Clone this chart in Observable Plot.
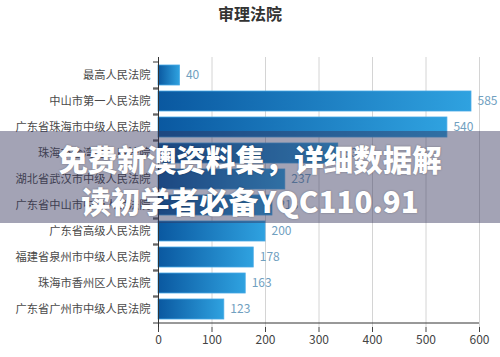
<!DOCTYPE html>
<html>
<head>
<meta charset="utf-8">
<script src="https://cdn.jsdelivr.net/npm/d3@7"></script>
<script src="https://cdn.jsdelivr.net/npm/@observablehq/plot@0.6"></script>
<style>
  html, body { margin: 0; padding: 0; background: #fff; }
  #wrap { position: relative; width: 500px; height: 357px; overflow: hidden; font-family: "Noto Sans CJK SC", "Noto Sans", sans-serif; }
  #title { position: absolute; left: 0; top: 2px; width: 500px; text-align: center; font-size: 16px; font-weight: 700; color: #333; line-height: 22px; }
  #band { position: absolute; left: 0; top: 131px; width: 500px; height: 92px; background: rgba(50,50,90,0.45); }
  #banner { position: absolute; left: 0; top: 137px; width: 500px; text-align: center; color: #fff; font-size: 29.5px; font-weight: 900; line-height: 42px; text-shadow: 0 0 2px rgba(0,0,0,0.35); }
  svg { display: block; }
</style>
</head>
<body>
<div id="wrap">
  <div id="chart"></div>
  <div id="title">审理法院</div>
  <div id="band"></div>
  <div id="banner">免费新澳资料集，详细数据解<br>读初学者必备YQC110.91</div>
</div>
<script>
const courts = [
  "最高人民法院",
  "中山市第一人民法院",
  "广东省珠海市中级人民法院",
  "珠海市金湾区人民法院",
  "湖北省武汉市中级人民法院",
  "广东省中山市中级人民法院",
  "广东省高级人民法院",
  "福建省泉州市中级人民法院",
  "珠海市香州区人民法院",
  "广东省广州市中级人民法院"
];
const counts = [40, 585, 540, 336, 237, 213, 200, 178, 163, 123];
const xTicks = [0, 100, 200, 300, 400, 500, 600];

const data = courts.map((c, i) => ({court: c, count: counts[i]}));
const step = 27;

const chart = Plot.plot({
  width: 500,
  height: 357,
  marginLeft: 158,
  marginRight: 21,
  marginTop: 57,
  marginBottom: 30,
  style: {fontFamily: '"Noto Sans CJK SC", "Noto Sans", sans-serif', background: "transparent"},
  x: {domain: [0, 600], ticks: xTicks, label: null},
  y: {domain: courts, padding: 0.22, label: null},
  marks: [
    Plot.gridX(xTicks, {stroke: "#d4d4d4", strokeOpacity: 1}),
    Plot.barX(data, {x: "count", y: "court", fill: "url(#barGrad)", stroke: "#45a9e6", strokeWidth: 0.8}),
    Plot.text(data, {x: "count", y: "court", text: d => String(d.count), dx: 6, textAnchor: "start", fill: "#70a0c0", fontSize: 12}),
    Plot.ruleX([0], {stroke: "#333"}),
    Plot.ruleY([courts[courts.length - 1]], {dy: step / 2, stroke: "#333"}),
    Plot.axisX({ticks: xTicks, tickSize: 5, tickPadding: 3, fontSize: 12, color: "#444", label: null}),
    Plot.axisY({tickSize: 0, tickPadding: 8, fontSize: 11.25, color: "#4a4a4a", label: null}),
    Plot.axisY({text: null, tickSize: 5, dy: -step / 2, stroke: "#333"}),
    Plot.axisY({text: null, tickSize: 5, dy: step / 2, stroke: "#333"})
  ]
});

const svg = d3.select(chart);
const defs = svg.insert("defs", ":first-child");
const g = defs.append("linearGradient").attr("id", "barGrad").attr("x1", "0").attr("x2", "1").attr("y1", "0").attr("y2", "0");
g.append("stop").attr("offset", "0%").attr("stop-color", "#0a58a0");
g.append("stop").attr("offset", "100%").attr("stop-color", "#2fa2e0");

document.getElementById("chart").appendChild(chart);
</script>
</body>
</html>
